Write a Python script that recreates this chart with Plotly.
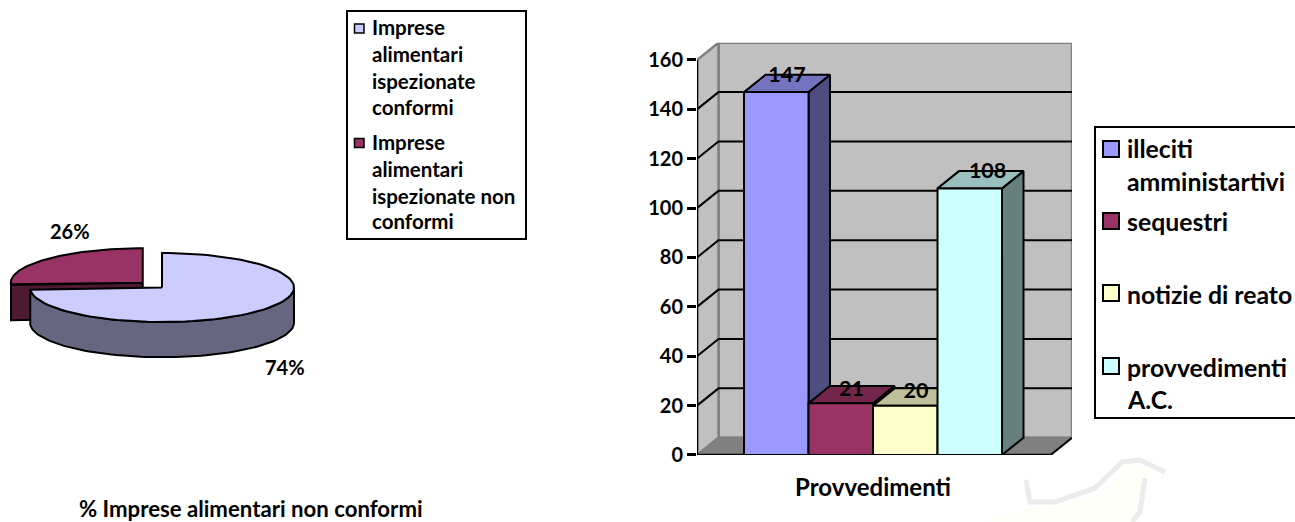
import math
import plotly.graph_objects as go

W, H = 1295, 522
FONT = "Lato"

# ---- data ----
bar_categories = ["illeciti<br>amministartivi", "sequestri", "notizie di reato", "provvedimenti<br>A.C."]
bar_values = [147, 21, 20, 108]
bar_axis_title = "Provvedimenti"
y_ticks = [0, 20, 40, 60, 80, 100, 120, 140, 160]
pie_labels = ["Imprese alimentari ispezionate conformi", "Imprese alimentari ispezionate non conformi"]
pie_values = [74, 26]
pie_title = "% Imprese alimentari non conformi"

# ---- styles ----
bar_front = ["#9999FF", "#993366", "#FFFFCC", "#CCFFFF"]
bar_top = ["#7373BF", "#732649", "#BFBF99", "#99BFBF"]
bar_side = ["#4D4D80", "#4D1A33", "#808066", "#668080"]
pie_top = ["#CCCCFF", "#993366"]
pie_rim = ["#666680", "#4D1933"]
WALL, FLOOR, EDGE = "#C0C0C0", "#808080", "#808080"

# oblique depth of the 3-D box, in axis units
DX, DY = 0.333, 7.0
BAR_X0, BAR_X1 = -0.729, 5.085
BAR_Y1 = 160 + DY
PIE_H = 1.02      # rim height in radii
EXPLODE = 0.2

def px(x):
    return x / W

def py(y):
    return 1 - y / H

fig = go.Figure()

def poly(xs, ys, fill, line="black", width=2, ax="x", ay="y"):
    fig.add_trace(go.Scatter(x=xs + xs[:1], y=ys + ys[:1], mode="lines", fill="toself", fillcolor=fill,
                             line=dict(color=line, width=width), hoverinfo="skip", showlegend=False,
                             xaxis=ax, yaxis=ay))

def seg(xs, ys, color="black", width=2):
    fig.add_trace(go.Scatter(x=xs, y=ys, mode="lines", line=dict(color=color, width=width),
                             hoverinfo="skip", showlegend=False))

# ---- 3-D column chart ----
xl = BAR_X0
xr = BAR_X1 - DX
poly([xl + DX, xr + DX, xr + DX, xl + DX], [DY, DY, BAR_Y1, BAR_Y1], WALL, EDGE, 2.5)   # back wall
poly([xl, xl + DX, xl + DX, xl], [0, DY, BAR_Y1, 160], WALL, EDGE, 2.5)                 # side wall
poly([xl, xr, xr + DX, xl + DX], [0, 0, DY, DY], FLOOR, EDGE, 2)                        # floor
for t in y_ticks[1:-1]:
    seg([xl, xl + DX, xr + DX], [t, t + DY, t + DY], "black", 2)
seg([xl, xl], [0, 160], "black", 2.5)
seg([xl, xr], [0, 0], "black", 2.5)
seg([xr, xr + DX], [0, DY], "black", 2)

for i, v in enumerate(bar_values):
    poly([i + 1, i + 1 + DX, i + 1 + DX, i + 1], [0, DY, v + DY, v], bar_side[i])
    poly([i, i + 1, i + 1 + DX, i + DX], [v, v, v + DY, v + DY], bar_top[i])
    poly([i, i + 1, i + 1, i], [0, 0, v, v], bar_front[i])

fig.add_trace(go.Scatter(x=[i + 0.5 + DX / 2 + (0.11 if v > 100 and i else 0) for i, v in enumerate(bar_values)],
                         y=[v + DY * (0.9 if v > 100 and i else 0.75) for v in bar_values],
                         mode="text", text=[str(v) for v in bar_values], cliponaxis=False,
                         textfont=dict(family=FONT, size=21.5, color="black", weight="bold"),
                         hoverinfo="skip", showlegend=False))

# ---- exploded 3-D pie ----
def arc(a0, a1, cx=0.0, cy=0.0, n=80):
    pts = [a0 + (a1 - a0) * k / n for k in range(n + 1)]
    return ([cx + math.sin(a) for a in pts], [cy + math.cos(a) for a in pts])

total = sum(pie_values)
a_split = 2 * math.pi * pie_values[0] / total
mid = (a_split + 2 * math.pi) / 2
ex, ey = EXPLODE * math.sin(mid), EXPLODE * math.cos(mid)

# exploded slice: cut face and outer rim, then its top
ax2, ay2 = arc(a_split, 2 * math.pi, ex, ey)
poly([ex, ax2[0], ax2[0], ex], [ey, ay2[0], ay2[0] - PIE_H, ey - PIE_H], pie_rim[1], ax="x2", ay="y2")
poly([ex] + ax2, [ey] + ay2, pie_top[1], ax="x2", ay="y2")

# main slice: rim of the visible front half, then its top
r_x, r_y = arc(math.pi / 2, a_split)
poly(r_x + r_x[::-1], r_y + [y - PIE_H for y in r_y[::-1]], pie_rim[0], ax="x2", ay="y2")
ax1, ay1 = arc(0, a_split)
poly([0.0] + ax1, [0.0] + ay1, pie_top[0], ax="x2", ay="y2")

# ---- axes ----
PIE_CX, PIE_CY, PIE_RX, PIE_RY = 162, 287.5, 132, 34.5
PIE_L, PIE_R, PIE_T, PIE_B = 0, 320, 230, 380
fig.update_layout(
    width=W, height=H, autosize=False, margin=dict(l=0, r=0, t=0, b=0),
    paper_bgcolor="white", plot_bgcolor="rgba(0,0,0,0)", showlegend=False,
    font=dict(family=FONT, color="black"),
    xaxis=dict(domain=[px(697), px(1072)], range=[BAR_X0, BAR_X1], showgrid=False, zeroline=False, showline=False,
               automargin=False, tickvals=[1.5 + 0.5], ticktext=[bar_axis_title], ticks="", ticklabelstandoff=16,
               tickfont=dict(family=FONT, size=24, weight="bold", color="black")),
    yaxis=dict(domain=[py(455), py(455 - BAR_Y1 * 395 / 160)], range=[0, BAR_Y1], showgrid=False, zeroline=False,
               automargin=False, showline=False, tickvals=y_ticks, ticks="outside", ticklen=9, tickwidth=2.5,
               tickcolor="black", tickfont=dict(family=FONT, size=20, weight="bold", color="black")),
    xaxis2=dict(domain=[px(PIE_L), px(PIE_R)], range=[(PIE_L - PIE_CX) / PIE_RX, (PIE_R - PIE_CX) / PIE_RX],
                visible=False, anchor="y2", automargin=False),
    yaxis2=dict(domain=[py(PIE_B), py(PIE_T)], range=[(PIE_CY - PIE_B) / PIE_RY, (PIE_CY - PIE_T) / PIE_RY],
                visible=False, anchor="x2", automargin=False),
)

# ---- legends, labels ----
shapes, notes = [], []

def text(x, y, s, size=20.5, anchor="left"):
    notes.append(dict(x=px(x), y=py(y), xref="paper", yref="paper", text=s, showarrow=False, xanchor=anchor,
                      yanchor="middle", align=anchor, font=dict(family=FONT, size=size, weight="bold", color="black")))

def box(x0, y0, x1, y1, fill="white", width=2):
    shapes.append(dict(type="rect", xref="paper", yref="paper", x0=px(x0), x1=px(x1), y0=py(y0), y1=py(y1),
                       fillcolor=fill, line=dict(color="black", width=width)))

def faint(points, color, width=0, fill=None):
    path = "M" + " L".join(f"{px(a):.5f},{py(b):.5f}" for a, b in points) + (" Z" if fill else "")
    shapes.append(dict(type="path", xref="paper", yref="paper", path=path, layer="below",
                       fillcolor=fill or "rgba(0,0,0,0)", line=dict(color=color, width=width)))

# faint background watermark of the page
faint([(985, 522), (1020, 510), (1100, 495), (1130, 465), (1150, 470), (1140, 500), (1140, 522)], "#FFFFFA", 0, "#FFFFFA")
faint([(1026, 480), (1030, 502), (1055, 502), (1095, 488), (1122, 462), (1140, 460), (1165, 472)], "#EBEBEB", 5)
faint([(1145, 478), (1140, 512), (1132, 522)], "#EBEBEB", 5)

box(347, 11, 526, 239)
for (sy, color) in zip([28.5, 143], pie_top):
    box(354.5, sy - 4.5, 364, sy + 4.5, color, 1.5)
for y, s in zip([27, 54, 81, 107, 142, 169, 196, 221],
                ["Imprese", "alimentari", "ispezionate", "conformi", "Imprese", "alimentari", "ispezionate non", "conformi"]):
    text(370.5, y, s)

box(1095, 127, 1310, 418)
for sy, color in zip([149, 221, 293, 366], bar_front):
    box(1103, sy - 8, 1119, sy + 8, color, 2)
for y, s in zip([149, 181, 221, 294, 367, 399],
                ["illeciti", "amministartivi", "sequestri", "notizie di reato", "provvedimenti", "A.C."]):
    text(1125, y, s, 24.8)

text(70, 231, f"{pie_values[1]}%", 20, "center")
text(285, 367, f"{pie_values[0]}%", 20, "center")
text(250.5, 508.5, pie_title, 22.2, "center")

fig.update_layout(shapes=shapes, annotations=notes)
fig.write_html("out.html", config={"displayModeBar": False},
               post_script="document.body.style.margin='0';document.body.style.overflow='hidden';")
